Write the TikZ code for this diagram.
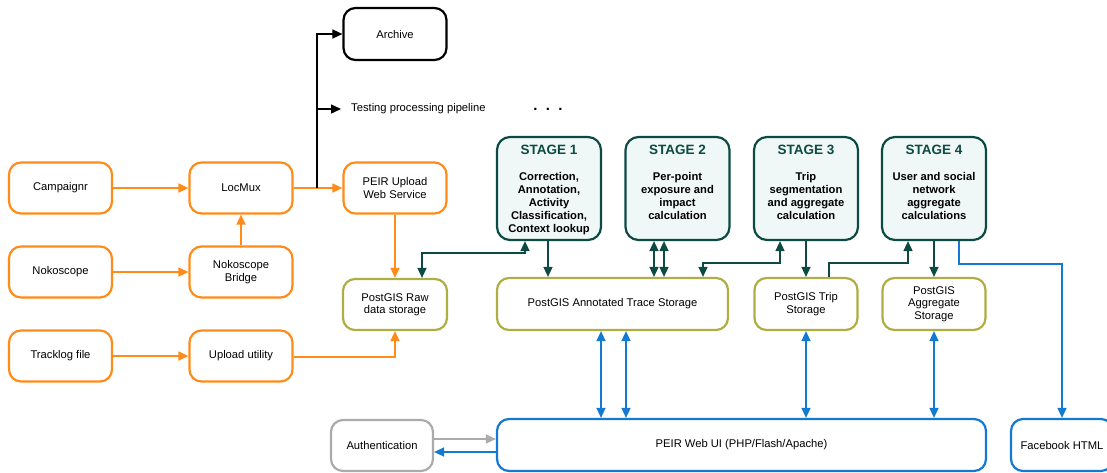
\documentclass[tikz,border=0pt]{standalone}
\usepackage{fontspec}
\setmainfont{Liberation Sans}
\usetikzlibrary{arrows.meta,calc}
\definecolor{corange}{HTML}{FF8C1A}
\definecolor{colive}{HTML}{AEAE45}
\definecolor{cdkgreen}{HTML}{0C4A43}
\definecolor{cstagefill}{HTML}{EFF8F7}
\definecolor{cblue}{HTML}{1479D2}
\definecolor{cgray}{HTML}{ABABAB}
\newcommand{\stagetext}[2]{\parbox[c][87pt][t]{104pt}{\centering\fontsize{13.5}{15}\selectfont\bfseries\textcolor{cdkgreen}{#1}\par\vspace{13pt}\fontsize{11.2}{13}\selectfont #2\par}}
\begin{document}
\begin{tikzpicture}[x=1pt,y=-1pt,
  font=\fontsize{11.2}{12.5}\selectfont,
  base/.style={rectangle, rounded corners=12pt, line width=2.2pt, align=center, inner sep=2pt, minimum width=103pt, minimum height=51pt, fill=white},
  obox/.style={base, draw=corange},
  kbox/.style={base, draw=black},
  sbox/.style={base, draw=colive},
  bbox/.style={base, draw=cblue},
  gbox/.style={base, draw=cgray},
  stagebox/.style={rectangle, rounded corners=13pt, line width=2.2pt, draw=cdkgreen, fill=cstagefill, inner sep=0pt, minimum width=104pt, minimum height=103pt},
  oarr/.style={draw=corange, line width=1.7pt, -{Triangle[length=10pt,width=9pt]}},
  karr/.style={draw=black, line width=1.4pt, -{Triangle[length=10pt,width=9pt]}},
  garr/.style={draw=cdkgreen, line width=1.6pt, -{Triangle[length=10pt,width=9pt]}},
  gdbl/.style={draw=cdkgreen, line width=1.6pt, {Triangle[length=10pt,width=9pt]}-{Triangle[length=10pt,width=9pt]}},
  barr/.style={draw=cblue, line width=1.5pt, -{Triangle[length=10pt,width=9pt]}},
  bdbl/.style={draw=cblue, line width=1.5pt, {Triangle[length=10pt,width=9pt]}-{Triangle[length=10pt,width=9pt]}},
  grarr/.style={draw=cgray, line width=1.5pt, -{Triangle[length=10pt,width=9pt]}}
]
\useasboundingbox (0,0) rectangle (1107,472);
\clip (0,0) rectangle (1107,472);

% input side
\node[obox] (campaignr) at (60.5,188) {Campaignr};
\node[obox] (locmux) at (241,188) {LocMux};
\node[obox] (upload) at (395,188) {PEIR Upload\\Web Service};
\node[kbox, minimum height=52pt] (archive) at (395,34) {Archive};
\node[obox] (nokoscope) at (60.5,272) {Nokoscope};
\node[obox] (bridge) at (241,272) {Nokoscope\\Bridge};
\node[obox] (tracklog) at (60.5,356) {Tracklog file};
\node[obox] (uputil) at (241,356) {Upload utility};
\node[sbox, minimum width=104pt] (raw) at (395,304.5) {PostGIS Raw\\data storage};
\node[anchor=west, inner xsep=10pt, inner ysep=2pt] (testing) at (341,109) {Testing processing pipeline};
\node[font=\fontsize{15}{15}\selectfont\bfseries] (dots) at (548,109) {.\ \ .\ \ .};

% stages
\node[stagebox] (stage1) at (549,188.5) {\stagetext{STAGE 1}{Correction,\\Annotation,\\Activity\\Classification,\\Context lookup}};
\node[stagebox] (stage2) at (677.5,188.5) {\stagetext{STAGE 2}{Per-point\\exposure and\\impact\\calculation}};
\node[stagebox] (stage3) at (806,188.5) {\stagetext{STAGE 3}{Trip\\segmentation\\and aggregate\\calculation}};
\node[stagebox] (stage4) at (934,188.5) {\stagetext{STAGE 4}{User and social\\network\\aggregate\\calculations}};

% storage
\node[sbox, minimum width=231pt, minimum height=52pt] (annotated) at (612.5,304) {PostGIS Annotated Trace Storage};
\node[sbox, minimum height=52pt] (trip) at (806,304) {PostGIS Trip\\Storage};
\node[sbox, minimum height=52pt] (aggr) at (934,304) {PostGIS\\Aggregate\\Storage};

% bottom
\node[gbox, minimum width=102pt] (auth) at (382,445.5) {Authentication};
\node[bbox, minimum width=489pt, minimum height=52pt] (webui) at (741.5,445) {PEIR Web UI (PHP/Flash/Apache)};
\node[bbox, minimum width=102pt, minimum height=52pt] (facebook) at (1062,445) {Facebook HTML};

% orange connectors
\draw[oarr] (campaignr.east) -- (locmux.west);
\draw[oarr] (locmux.east) -- (upload.west);
\draw[oarr] (nokoscope.east) -- (bridge.west);
\draw[oarr] (tracklog.east) -- (uputil.west);
\draw[oarr] (bridge.north) -- (locmux.south);
\draw[oarr] (upload.south) -- (upload.south |- raw.north);
\draw[oarr] ([yshift=-1pt]uputil.east) -| (raw.south);

% black branch
\coordinate (j1) at (317,188);
\coordinate (j2) at (317,109);
\draw[karr] (j1) |- (archive.west);
\draw[karr] (j2) -- (testing.west);

% dark green connectors
\draw[gdbl] ([xshift=27pt]raw.north) -- ++(0,-25) -| ([xshift=-24pt]stage1.south);
\draw[garr] ([xshift=-1pt]stage1.south) -- ([xshift=-1pt]stage1.south |- annotated.north);
\draw[gdbl] ([xshift=-23.5pt]stage2.south) -- ([xshift=-23.5pt]stage2.south |- annotated.north);
\draw[gdbl] ([xshift=-13.5pt]stage2.south) -- ([xshift=-13.5pt]stage2.south |- annotated.north);
\draw[gdbl] ([xshift=90.5pt]annotated.north) -- ++(0,-14) -| ([xshift=-26pt]stage3.south);
\draw[garr] (stage3.south) -- (trip.north);
\draw[garr] ([xshift=23pt]trip.north) -- ++(0,-14) -| ([xshift=-26pt]stage4.south);
\draw[garr] (stage4.south) -- (aggr.north);

% blue connectors
\draw[barr] ([xshift=25pt]stage4.south) -- ++(0,23) -| (facebook.north);
\draw[bdbl] ([xshift=-11.5pt]annotated.south) -- ([xshift=-11.5pt]annotated.south |- webui.north);
\draw[bdbl] ([xshift=13.5pt]annotated.south) -- ([xshift=13.5pt]annotated.south |- webui.north);
\draw[bdbl] (trip.south) -- (trip.south |- webui.north);
\draw[bdbl] (aggr.south) -- (aggr.south |- webui.north);
\draw[grarr] ([yshift=6.5pt]auth.east) -- ([yshift=6.5pt]auth.east -| webui.west);
\draw[barr] ([yshift=-6.5pt]auth.east -| webui.west) -- ([yshift=-6.5pt]auth.east);
\end{tikzpicture}
\end{document}
